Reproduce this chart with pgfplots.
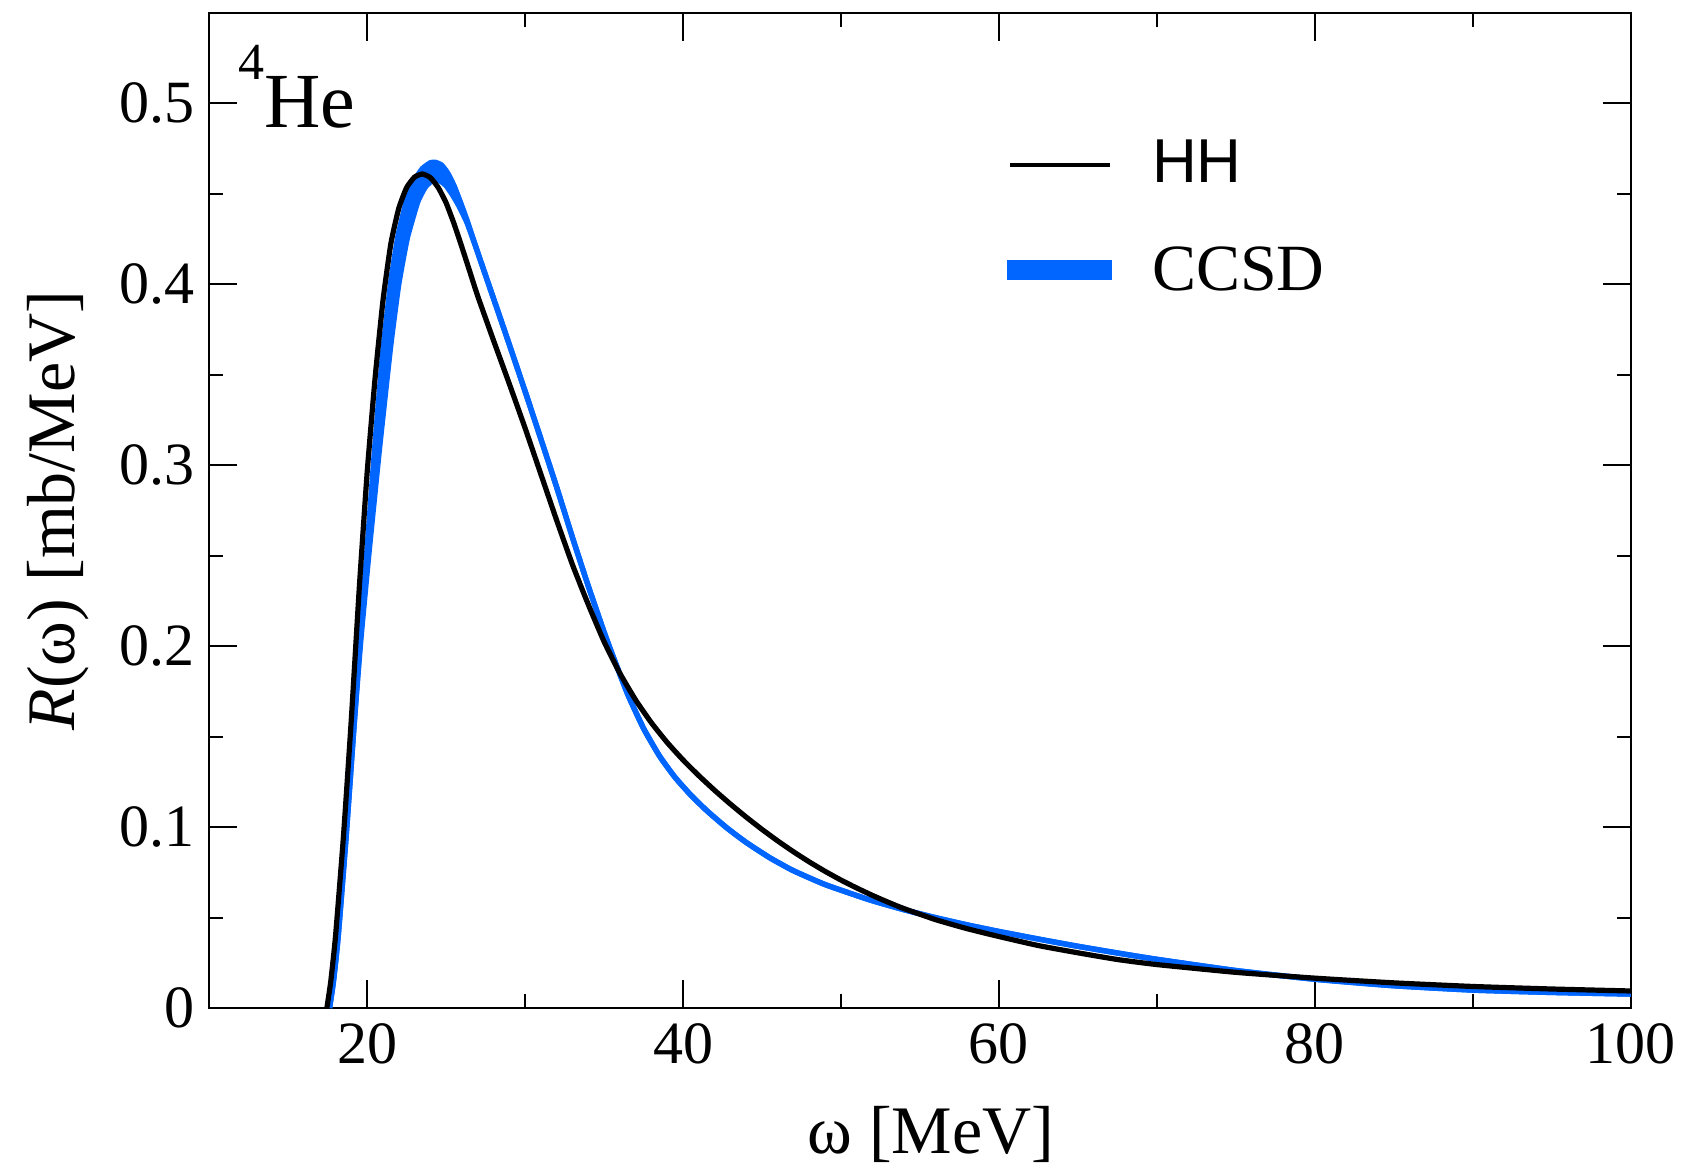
\documentclass[border=0pt]{standalone}
\usepackage{fontspec}
\setmainfont{Liberation Serif}
\setsansfont{Liberation Sans}
\usepackage{pgfplots}
\pgfplotsset{compat=1.18}
\usepgfplotslibrary{fillbetween}
\definecolor{ccsd}{RGB}{0,102,255}

\begin{document}
\begin{tikzpicture}
\begin{axis}[
  at={(0pt,0pt)}, anchor=south west,
  scale only axis, width=355.4pt, height=248.75pt,
  xmin=10, xmax=100, ymin=0, ymax=0.55,
  xtick={20,40,60,80,100}, minor xtick={30,50,70,90},
  ytick={0,0.1,0.2,0.3,0.4,0.5}, minor ytick={0.05,0.15,0.25,0.35,0.45},
  major tick length=7pt, minor tick length=3.5pt,
  tick style={black, line width=0.5pt},
  axis line style={line width=0.6pt},
  tick align=inside,
  /pgf/number format/assume math mode=true,
  ticklabel style={font=\fontsize{15}{15}\selectfont},
  xticklabel style={anchor=base, yshift=-13.9pt, inner sep=0pt},
  yticklabel style={anchor=east, inner sep=0pt, xshift=-3.5pt},
  xlabel={ω [MeV]},
  xlabel style={at={(axis description cs:0.5076,-0.1463)}, anchor=base, inner sep=0pt, font=\fontsize{17}{17}\selectfont},
  ylabel={\textit{R}(ω) [mb/MeV]},
  ylabel style={at={(axis description cs:-0.0945,0.5)}, anchor=base, inner sep=0pt, font=\fontsize{17}{17}\selectfont},
  legend style={draw=none, fill=none, inner sep=0pt, outer sep=0pt,
    at={(rel axis cs:0.5613,0.8728)}, anchor=north west,
    row sep=14.7pt, column sep=10pt, nodes={inner sep=0pt}},
  legend cell align=left,
]
\addlegendimage{legend image code/.code={\draw[black,line width=1.1pt] (0.5pt,-0.3pt) -- (25.4pt,-0.3pt);}}
\addlegendentry{\fontsize{15.5}{15.5}\selectfont\sffamily HH}
\addlegendimage{legend image code/.code={\fill[ccsd] (0pt,-1.95pt) rectangle (25.85pt,2.85pt);}}
\addlegendentry{\fontsize{16.5}{16.5}\selectfont CCSD}

% CCSD band: upper/outer edge
\addplot[name path=U, ccsd, line width=1.35pt, line join=round, smooth, tension=0.3, forget plot] table {
x y
17.62 0
17.87 0.015
18.17 0.040
18.67 0.095
19.17 0.156
19.6 0.208
20.05 0.260
20.5 0.312
21.0 0.3635
21.5 0.4015
21.95 0.4265
22.5 0.4465
23.0 0.4575
23.5 0.4640
24.0 0.4672
24.3 0.4675
24.7 0.466
25.1 0.4615
25.5 0.4545
25.9 0.4455
26.3 0.436
26.7 0.4255
27.2 0.4125
27.77 0.398
28.5 0.3795
29.3 0.359
30.09 0.3385
31 0.3145
32 0.2878
33 0.2600
34 0.2332
35 0.2078
35.57 0.1943
36.5 0.1733
37.5 0.1545
38.53 0.139
39.5 0.1274
40.5 0.1176
41.5 0.1091
42.75 0.0997
44 0.0915
45.5 0.083
46.96 0.0760
49 0.0682
51.8 0.0598
54 0.0543
56 0.0499
58 0.0459
60 0.0423
62.5 0.0381
65 0.0341
67.5 0.0304
70 0.0269
75 0.0207
80 0.0159
85 0.0123
90 0.0099
95 0.0086
100 0.0077
};
% CCSD band: lower/inner edge
\addplot[name path=L, ccsd, line width=1.35pt, line join=round, smooth, tension=0.3, forget plot] table {
x y
17.62 0
17.87 0.015
18.17 0.040
18.67 0.095
19.17 0.156
19.6 0.2036
20.12 0.252
20.79 0.310
21.49 0.366
22.0 0.400
22.54 0.4255
23.2 0.4455
23.7 0.4540
24.2 0.4578
24.6 0.4573
25.0 0.4545
25.4 0.4495
25.8 0.4435
26.3 0.4345
26.7 0.4250
27.2 0.4125
27.77 0.398
28.5 0.3795
29.3 0.359
30.09 0.3385
31 0.3145
32 0.2878
33 0.2600
34 0.2332
35 0.2078
35.57 0.1943
36.5 0.1733
37.5 0.1545
38.53 0.139
39.5 0.1274
40.5 0.1176
41.5 0.1091
42.75 0.0997
44 0.0915
45.5 0.083
46.96 0.0760
49 0.0682
51.8 0.0598
54 0.0543
56 0.0499
58 0.0459
60 0.0423
62.5 0.0381
65 0.0341
67.5 0.0304
70 0.0269
75 0.0207
80 0.0159
85 0.0123
90 0.0099
95 0.0086
100 0.0077
};
\addplot[ccsd, forget plot] fill between[of=U and L];

% HH
\addplot[black, line width=1.3pt, line join=round, smooth, tension=0.3, forget plot] table {
x y
17.45 0
17.7 0.015
18.0 0.040
18.5 0.095
19.0 0.160
19.5 0.232
20.0 0.296
20.5 0.348
21.0 0.391
21.5 0.4225
22.0 0.442
22.5 0.4535
23.0 0.4593
23.5 0.461
24.0 0.459
24.5 0.4535
25.0 0.445
25.5 0.4335
26.0 0.4205
26.5 0.407
27.0 0.3935
28.0 0.369
29.0 0.345
30.0 0.3205
31.0 0.295
32.0 0.2695
33.0 0.245
34.0 0.223
35.0 0.2025
36.0 0.185
37.0 0.1702
38.0 0.1576
39.0 0.1467
40.0 0.1371
41.0 0.1284
42.0 0.1203
43.0 0.1127
44.0 0.1055
45.0 0.0987
46.0 0.0923
47.0 0.0863
48.0 0.0807
49.0 0.0755
50.0 0.0707
51.0 0.0663
52.0 0.0622
53.0 0.0584
54.0 0.0549
56.0 0.0488
58.0 0.0438
60.0 0.0395
62.5 0.0345
65.0 0.0305
67.5 0.0268
70.0 0.0240
75.0 0.0197
80.0 0.0165
85.0 0.0139
90.0 0.0119
95.0 0.0105
100.0 0.0094
};

\node[anchor=base west, inner sep=0pt] at (rel axis cs:0.02005,0.8851)
  {\raisebox{12pt}{\fontsize{13}{13}\selectfont 4}\fontsize{19.5}{19.5}\selectfont He};
\end{axis}
\pgfresetboundingbox
\useasboundingbox (-52.3pt,-39pt) rectangle (369.45pt,252pt);
\end{tikzpicture}
\end{document}
